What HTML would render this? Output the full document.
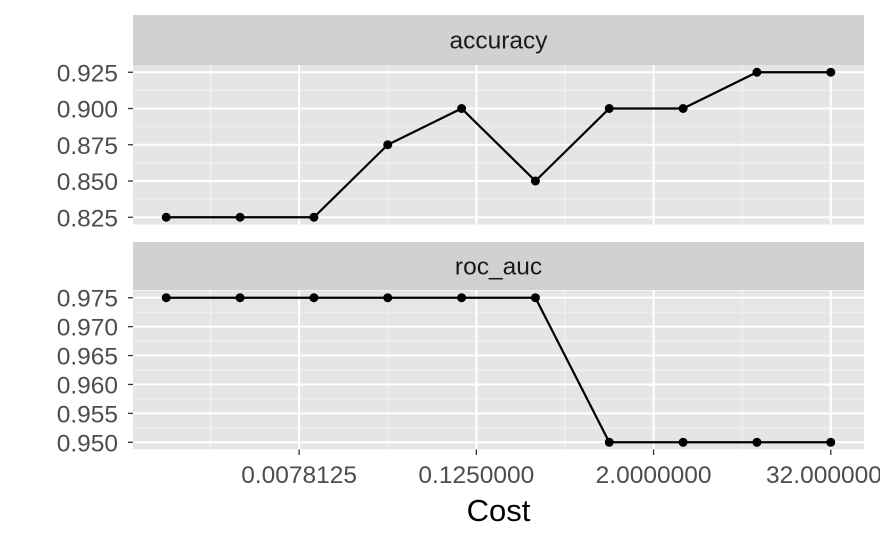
<!DOCTYPE html>
<html><head><meta charset="utf-8"><style>
body{margin:0;background:#fff;}
svg{display:block;font-family:"Liberation Sans",Arial,sans-serif;}
</style></head><body>
<svg id="c" width="880" height="543"></svg>
<script>
const costExp = [-10,-8.3333,-6.6667,-5,-3.3333,-1.6667,0,1.6667,3.3333,5];
const accuracyVals = [0.825,0.825,0.825,0.875,0.9,0.85,0.9,0.9,0.925,0.925];
const rocVals = [0.975,0.975,0.975,0.975,0.975,0.975,0.95,0.95,0.95,0.95];
const xTickExp = [-7,-3,1,5];
const xTickLabels = ["0.0078125","0.1250000","2.0000000","32.0000000"];
const accTicks = [0.825,0.85,0.875,0.9,0.925];
const rocTicks = [0.95,0.955,0.96,0.965,0.97,0.975];

const NS="http://www.w3.org/2000/svg";
const svg=document.getElementById('c');
function el(t,a,p){const e=document.createElementNS(NS,t);for(const k in a)e.setAttribute(k,a[k]);(p||svg).appendChild(e);return e;}
const X0=133,X1=864,xmin=-10.75,xmax=5.75;
const xs=v=>X0+(v-xmin)/(xmax-xmin)*(X1-X0);
const FS=24.5;

function panel(name,label,sy,sh,py0,py1,ymin,ymax,ticks,minors,vals){
  const ys=v=>py1-(v-ymin)/(ymax-ymin)*(py1-py0);
  const g=el('g',{});
  
  
  const st=el('rect',{x:X0,y:sy,width:X1-X0,height:sh,fill:'#d1d1d1'},g);
  
  const stt=el('text',{x:(X0+X1)/2,y:sy+sh/2+8.5,'text-anchor':'middle','font-size':FS,fill:'#1a1a1a'},g);
  stt.textContent=label;
  
  const bg=el('rect',{x:X0,y:py0,width:X1-X0,height:py1-py0,fill:'#e5e5e5'},g);
  
  minors.forEach(v=>el('line',{x1:X0,x2:X1,y1:ys(v),y2:ys(v),stroke:'#f2f2f2','stroke-width':1},g));
  [-9,-5,-1,3].forEach(v=>el('line',{x1:xs(v),x2:xs(v),y1:py0,y2:py1,stroke:'#f2f2f2','stroke-width':1},g));
  ticks.forEach(v=>{
    el('line',{x1:X0,x2:X1,y1:ys(v),y2:ys(v),stroke:'#fff','stroke-width':2},g);
    el('line',{x1:X0-5,x2:X0,y1:ys(v),y2:ys(v),stroke:'#333','stroke-width':1.3},g);
    const t=el('text',{x:X0-15,y:ys(v)+9,'text-anchor':'end','font-size':FS,fill:'#4d4d4d'},g);
    t.textContent=v.toFixed(3);
    
  });
  xTickExp.forEach(v=>el('line',{x1:xs(v),x2:xs(v),y1:py0,y2:py1,stroke:'#fff','stroke-width':2},g));
  const pts=costExp.map((c,i)=>xs(c)+','+ys(vals[i])).join(' ');
  const ln=el('polyline',{points:pts,fill:'none',stroke:'#000','stroke-width':2.2},g);
  
  costExp.forEach((c,i)=>{
    const p=el('circle',{cx:xs(c),cy:ys(vals[i]),r:4.5,fill:'#000'},g);
    
  });
}
panel('accuracy','accuracy',15,50,65,224.5,0.82,0.93,accTicks,[0.8375,0.8625,0.8875,0.9125],accuracyVals);
panel('roc-auc','roc_auc',242,48,290.5,449.5,0.94875,0.97625,rocTicks,[0.9525,0.9575,0.9625,0.9675,0.9725],rocVals);

xTickExp.forEach((v,i)=>{
  el('line',{x1:xs(v),x2:xs(v),y1:449.5,y2:455,stroke:'#333','stroke-width':1.3});
  const t=el('text',{x:xs(v),y:483,'text-anchor':'middle','font-size':FS,fill:'#4d4d4d'});
  t.textContent=xTickLabels[i];
  
  
});
const xt=el('text',{x:(X0+X1)/2,y:521,'text-anchor':'middle','font-size':31,fill:'#000'});
xt.textContent='Cost';


</script>
</body></html>
